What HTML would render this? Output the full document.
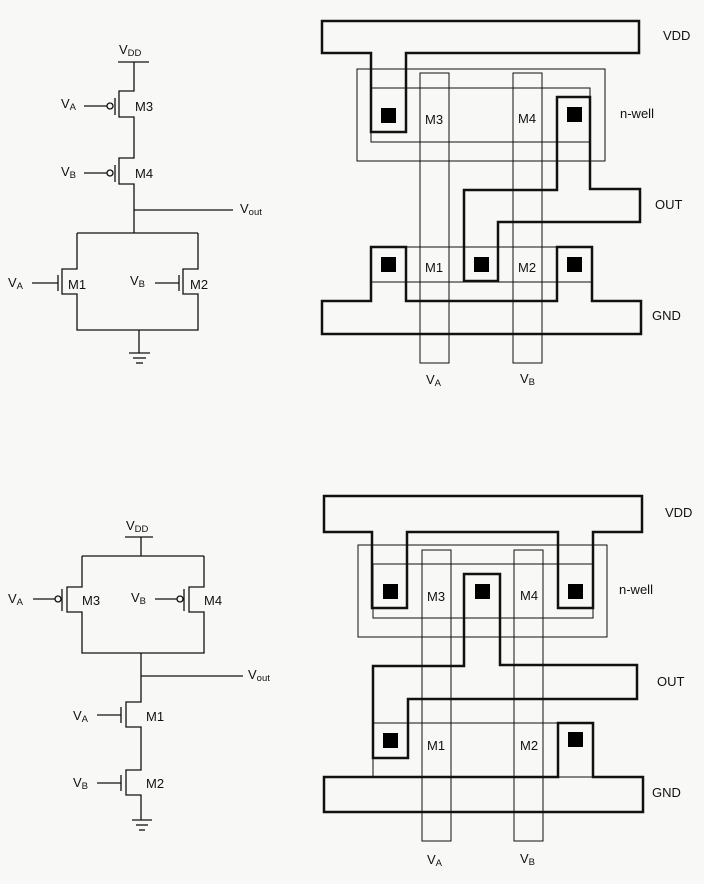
<!DOCTYPE html>
<html><head><meta charset="utf-8"><style>
html,body{margin:0;padding:0;background:#f8f8f6;}
svg{display:block}
text{font-family:"Liberation Sans",sans-serif;font-size:13px;fill:#111}
.s{font-size:9.5px}
</style></head><body>
<svg width="704" height="884" viewBox="0 0 704 884" xmlns="http://www.w3.org/2000/svg">
<g fill="none" stroke="#111" stroke-width="1.3">
<!-- TOP SCHEMATIC -->
<line x1="118" y1="62" x2="149" y2="62"/>
<polyline points="134,62 134,91 119,91 119,117 134,117 134,158 119,158 119,184 134,184 134,233"/>
<line x1="115" y1="98" x2="115" y2="115"/>
<line x1="115" y1="165" x2="115" y2="182"/>
<circle cx="110" cy="106" r="3"/><line x1="84" y1="106" x2="107" y2="106"/>
<circle cx="110" cy="173" r="3"/><line x1="84" y1="173" x2="107" y2="173"/>
<line x1="134" y1="210" x2="233" y2="210"/>
<polyline points="77,233 198,233"/>
<polyline points="77,233 77,269 62,269 62,294 77,294 77,330 198,330 198,294 183,294 183,269 198,269 198,233"/>
<line x1="58" y1="275" x2="58" y2="291"/>
<line x1="32" y1="283" x2="58" y2="283"/>
<line x1="179" y1="275" x2="179" y2="291"/>
<line x1="155" y1="283" x2="179" y2="283"/>
<line x1="139" y1="330" x2="139" y2="353"/>
<line x1="129" y1="353" x2="150" y2="353"/><line x1="133" y1="358" x2="146" y2="358"/><line x1="136" y1="363" x2="143" y2="363"/>
<!-- BOTTOM SCHEMATIC -->
<line x1="125" y1="537" x2="153" y2="537"/>
<line x1="141" y1="537" x2="141" y2="556"/>
<polyline points="82,556 204,556"/>
<polyline points="82,556 82,587 67,587 67,612 82,612 82,653 204,653 204,612 189,612 189,587 204,587 204,556"/>
<line x1="62" y1="589" x2="62" y2="611"/>
<circle cx="58" cy="599" r="3"/><line x1="33" y1="599" x2="55" y2="599"/>
<line x1="184" y1="589" x2="184" y2="611"/>
<circle cx="180" cy="599" r="3"/><line x1="155" y1="599" x2="177" y2="599"/>
<polyline points="141,653 141,702 126,702 126,727 141,727 141,770 126,770 126,795 141,795 141,820"/>
<line x1="141" y1="676" x2="243" y2="676"/>
<line x1="121" y1="707" x2="121" y2="723"/><line x1="97" y1="715" x2="121" y2="715"/>
<line x1="121" y1="775" x2="121" y2="791"/><line x1="97" y1="783" x2="121" y2="783"/>
<line x1="132" y1="820" x2="152" y2="820"/><line x1="136" y1="825" x2="148" y2="825"/><line x1="139" y1="830" x2="145" y2="830"/>
</g>
<g>
<text x="119" y="54">V<tspan class="s" dy="2">DD</tspan></text>
<text x="61" y="108">V<tspan class="s" dy="2">A</tspan></text><text x="135" y="111">M3</text>
<text x="61" y="176">V<tspan class="s" dy="2">B</tspan></text><text x="135" y="178">M4</text>
<text x="240" y="213">V<tspan class="s" dy="2">out</tspan></text>
<text x="8" y="287">V<tspan class="s" dy="2">A</tspan></text><text x="68" y="289">M1</text>
<text x="130" y="285">V<tspan class="s" dy="2">B</tspan></text><text x="190" y="289">M2</text>
<text x="126" y="530">V<tspan class="s" dy="2">DD</tspan></text>
<text x="8" y="603">V<tspan class="s" dy="2">A</tspan></text><text x="82" y="605">M3</text>
<text x="131" y="602">V<tspan class="s" dy="2">B</tspan></text><text x="204" y="605">M4</text>
<text x="248" y="679">V<tspan class="s" dy="2">out</tspan></text>
<text x="73" y="720">V<tspan class="s" dy="2">A</tspan></text><text x="146" y="721">M1</text>
<text x="73" y="787">V<tspan class="s" dy="2">B</tspan></text><text x="146" y="788">M2</text>
</g>
<!-- TOP LAYOUT -->
<g fill="none" stroke="#111">
<g stroke-width="1">
<rect x="357" y="69" width="248" height="92"/>
<rect x="371" y="88" width="219" height="54"/>
<rect x="420" y="73" width="29" height="290"/>
<rect x="513" y="73" width="29" height="290"/>
<rect x="371" y="247" width="221" height="35"/>
</g>
<g stroke-width="2.5" stroke-linejoin="miter">
<polygon points="322,21 639,21 639,53 406,53 406,132 371,132 371,53 322,53"/>
<polygon points="557,97 590,97 590,189 640,189 640,222 498,222 498,281 464,281 464,190 557,190"/>
<polygon points="322,301 371,301 371,247 406,247 406,301 557,301 557,247 592,247 592,301 641,301 641,334 322,334"/>
</g>
</g>
<g fill="#000">
<rect x="381" y="108" width="15" height="15"/><rect x="567" y="107" width="15" height="15"/>
<rect x="381" y="257" width="15" height="15"/><rect x="474" y="257" width="15" height="15"/><rect x="567" y="257" width="15" height="15"/>
</g>
<text x="663" y="40">VDD</text><text x="620" y="118">n-well</text><text x="655" y="209">OUT</text><text x="652" y="320">GND</text>
<text x="425" y="124">M3</text><text x="518" y="123">M4</text><text x="425" y="272">M1</text><text x="518" y="272">M2</text>
<text x="426" y="384">V<tspan class="s" dy="2">A</tspan></text><text x="520" y="383">V<tspan class="s" dy="2">B</tspan></text>
<!-- BOTTOM LAYOUT -->
<g fill="none" stroke="#111">
<g stroke-width="1">
<rect x="358" y="545" width="249" height="92"/>
<rect x="373" y="564" width="220" height="54"/>
<rect x="422" y="550" width="29" height="291"/>
<rect x="514" y="550" width="29" height="291"/>
<rect x="373" y="723" width="220" height="54"/>
</g>
<g stroke-width="2.5">
<polygon points="324,496 642,496 642,532 593,532 593,608 558,608 558,532 407,532 407,608 372,608 372,532 324,532"/>
<polygon points="464,574 500,574 500,665 637,665 637,699 408,699 408,758 373,758 373,666 464,666"/>
<polygon points="324,777 558,777 558,723 593,723 593,777 643,777 643,812 324,812"/>
</g>
</g>
<g fill="#000">
<rect x="383" y="584" width="15" height="15"/><rect x="475" y="584" width="15" height="15"/><rect x="568" y="584" width="15" height="15"/>
<rect x="383" y="733" width="15" height="15"/><rect x="568" y="732" width="15" height="15"/>
</g>
<text x="665" y="517">VDD</text><text x="619" y="594">n-well</text><text x="657" y="686">OUT</text><text x="652" y="797">GND</text>
<text x="427" y="601">M3</text><text x="520" y="600">M4</text><text x="427" y="750">M1</text><text x="520" y="750">M2</text>
<text x="427" y="864">V<tspan class="s" dy="2">A</tspan></text><text x="520" y="863">V<tspan class="s" dy="2">B</tspan></text>
</svg>
</body></html>
